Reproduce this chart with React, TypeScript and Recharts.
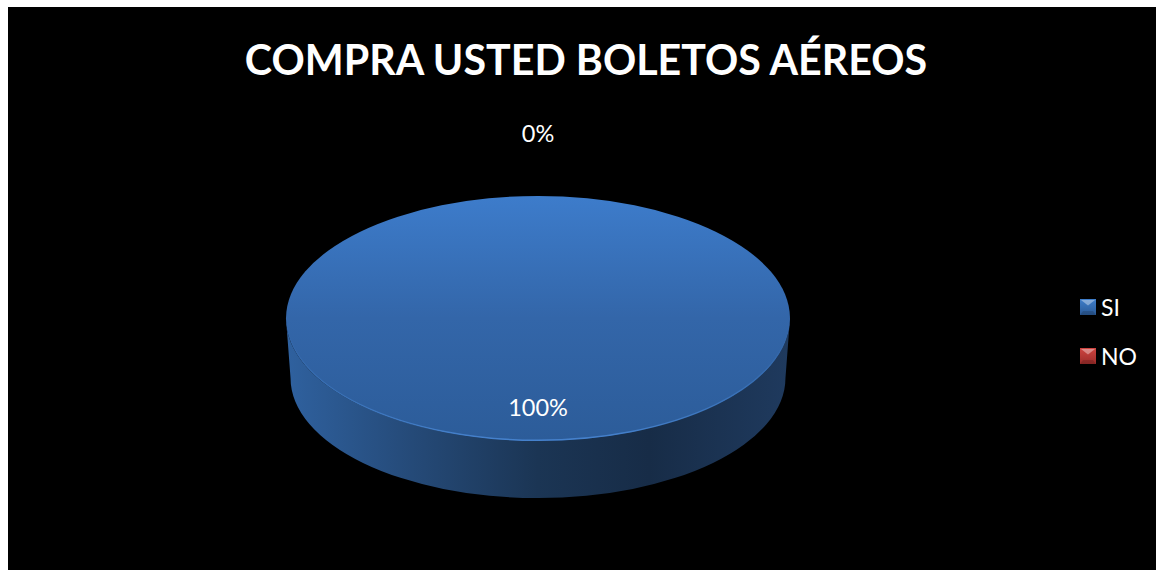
import React from "react";
import { PieChart, Pie, Cell, Legend } from "recharts";

const title = "COMPRA USTED BOLETOS AÉREOS";
const categories = ["SI", "NO"];
const values = [100, 0];
const data = categories.map((name, i) => ({ name, value: values[i] }));

const W = 1148;
const H = 563;
const FONT = "Lato, 'Open Sans', sans-serif";
const SQUASH = 122.5 / 252;
const colorIds = ["Si", "No"];
const baseColors = ["#3469a8", "#b83535"];

function EllipticSector(props: any) {
  const { cx, cy, outerRadius, startAngle, endAngle, index } = props;
  if (Math.abs(endAngle - startAngle) < 0.01) return null;
  const rx = outerRadius;
  const ry = outerRadius * SQUASH;
  const id = colorIds[index] ?? "Si";
  const rx2 = rx * 0.982;
  const ry2 = ry * 0.98;
  const dy = 59.5;
  const wall = `M${cx - rx},${cy} A${rx},${ry} 0 0 0 ${cx + rx},${cy} L${cx + rx2},${cy + dy} A${rx2},${ry2} 0 0 1 ${cx - rx2},${cy + dy} Z`;
  return (
    <g>
      <path d={wall} fill={`url(#wall${id})`} />
      <ellipse cx={cx} cy={cy} rx={rx} ry={ry} fill={`url(#top${id})`} />
      <ellipse cx={cx} cy={cy} rx={rx - 0.7} ry={ry - 0.7} fill="none" stroke={`url(#edge${id})`} strokeWidth={1.4} />
    </g>
  );
}

function renderLabel(props: any) {
  const { cx, cy, percent, index } = props;
  const y = index === 0 ? cy + 88.5 : cy - 185.5;
  return (
    <text x={cx} y={y} textAnchor="middle" dominantBaseline="central" fill="#ffffff" fontSize={23.5} fontFamily={FONT}>
      {`${Math.round(percent * 100)}%`}
    </text>
  );
}

function LegendBox(props: any) {
  const { payload = [] } = props;
  return (
    <div>
      {payload.map((entry: any, i: number) => (
        <div key={entry.value} style={{ display: "flex", alignItems: "center", height: 24, marginBottom: i === 0 ? 25 : 0, color: "#fff", fontFamily: FONT, fontSize: 23 }}>
          <svg width={16} height={16} style={{ marginRight: 5, display: "block" }}>
            <rect width={16} height={16} fill={`url(#legend${colorIds[i]})`} />
            <path d="M1,1 L15,1 L8,6.5 Z" fill="#ffffff" fillOpacity={0.38} />
            <path d="M0,16 L16,16 L13,12 L3,12 Z" fill="#000000" fillOpacity={0.15} />
          </svg>
          <span>{entry.value}</span>
        </div>
      ))}
    </div>
  );
}

export default function App() {
  return (
    <div style={{ position: "absolute", left: 8, top: 7, width: W, height: H, background: "#000" }}>
      <PieChart width={W} height={H} margin={{ top: 0, right: 0, bottom: 0, left: 0 }}>
        <defs>
          <linearGradient id="topSi" x1="0" y1="0" x2="0" y2="1">
            <stop offset="0" stopColor="#3d7ccb" />
            <stop offset="0.5" stopColor="#3366a9" />
            <stop offset="1" stopColor="#2c5c99" />
          </linearGradient>
          <linearGradient id="edgeSi" x1="0" y1="0" x2="0" y2="1">
            <stop offset="0" stopColor="#3d7ccb" stopOpacity={0} />
            <stop offset="0.55" stopColor="#3f7fcc" stopOpacity={0} />
            <stop offset="1" stopColor="#4a88d6" stopOpacity={0.85} />
          </linearGradient>
          <linearGradient id="wallSi" x1="0" y1="0" x2="1" y2="0">
            <stop offset="0" stopColor="#2f619f" />
            <stop offset="0.25" stopColor="#254a78" />
            <stop offset="0.5" stopColor="#1b3554" />
            <stop offset="0.72" stopColor="#172c47" />
            <stop offset="1" stopColor="#1f3a5e" />
          </linearGradient>
          <linearGradient id="legendSi" x1="0" y1="0" x2="0" y2="1">
            <stop offset="0" stopColor="#3f7ecb" />
            <stop offset="1" stopColor="#2b5a96" />
          </linearGradient>
          <linearGradient id="legendNo" x1="0" y1="0" x2="0" y2="1">
            <stop offset="0" stopColor="#cf4440" />
            <stop offset="1" stopColor="#9c2c2a" />
          </linearGradient>
        </defs>
        <text x={578} y={52} textAnchor="middle" dominantBaseline="central" fill="#ffffff" fontSize={41.2} fontWeight={700} fontFamily={FONT}>
          {title}
        </text>
        <Pie
          data={data}
          dataKey="value"
          nameKey="name"
          cx={530}
          cy={311.5}
          outerRadius={252}
          startAngle={90}
          endAngle={-270}
          stroke="none"
          label={renderLabel}
          labelLine={false}
          shape={EllipticSector}
          isAnimationActive={false}
        >
          {data.map((d, i) => (
            <Cell key={d.name} fill={baseColors[i]} />
          ))}
        </Pie>
        <Legend content={<LegendBox />} itemSorter={null} layout="vertical" align="right" verticalAlign="top" wrapperStyle={{ position: "absolute", left: 1072, top: 288, width: 70 }} />
      </PieChart>
    </div>
  );
}
